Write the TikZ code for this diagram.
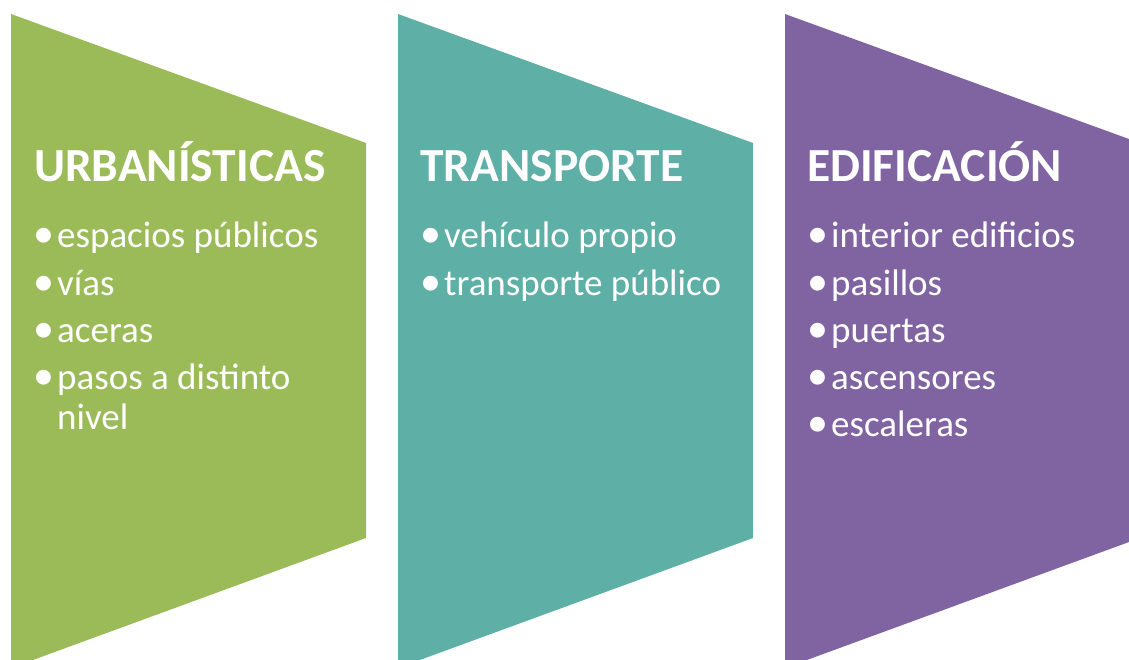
\documentclass[tikz,border=0pt]{standalone}
\usepackage{fontspec}
\setmainfont{Carlito}
\usepackage{tikz}

\definecolor{urbgreen}{HTML}{9BBB59}
\definecolor{transteal}{HTML}{5EAFA6}
\definecolor{edipurple}{HTML}{8064A2}

\tikzset{
  heading/.style={anchor=base west, inner sep=0pt, text=white,
    font=\bfseries\fontsize{47.5}{55}\selectfont},
  entry/.style={anchor=base west, inner sep=0pt, text=white,
    font=\fontsize{37}{40}\selectfont},
  dot/.style={anchor=base west, inner sep=0pt, text=white,
    font=\fontsize{42}{40}\selectfont},
}

\begin{document}
\begin{tikzpicture}[x=1pt,y=-1pt]
  \useasboundingbox (0,0) rectangle (1129,660);
  \clip (0,0) rectangle (1129,660);
  % panels
  \fill [urbgreen] (11,14) -- (366,143) -- (366,538) -- (11,668) -- cycle;
  \fill [transteal] (398,14) -- (753,143) -- (753,538) -- (398,668) -- cycle;
  \fill [edipurple] (785,14) -- (1140,143) -- (1140,538) -- (785,668) -- cycle;

  % urbanisticas
  \node [heading] (urb) at (34,182) {URBANÍSTICAS};
  \foreach \t [count=\i] in {espacios públicos, vías, aceras, pasos a distinto} {
    \node [dot] (urb-b\i) at (33,{248+(\i-1)*47.2}) {•};
    \node [entry] (urb-t\i) at (57,{248+(\i-1)*47.2}) {\t};
  }
  \node [entry] (urb-t5) at (57,429) {nivel};

  % transporte
  \node [heading] (tra) at (420,182) {TRANSPORTE};
  \foreach \t [count=\i] in {vehículo propio, transporte público} {
    \node [dot] (tra-b\i) at (420,{248+(\i-1)*47.2}) {•};
    \node [entry] (tra-t\i) at (444,{248+(\i-1)*47.2}) {\t};
  }

  % edificacion
  \node [heading] (edi) at (807,182) {EDIFICACIÓN};
  \foreach \t [count=\i] in {interior edificios, pasillos, puertas, ascensores, escaleras} {
    \node [dot] (edi-b\i) at (807,{248+(\i-1)*47.2}) {•};
    \node [entry] (edi-t\i) at (831,{248+(\i-1)*47.2}) {\t};
  }
\end{tikzpicture}
\end{document}
